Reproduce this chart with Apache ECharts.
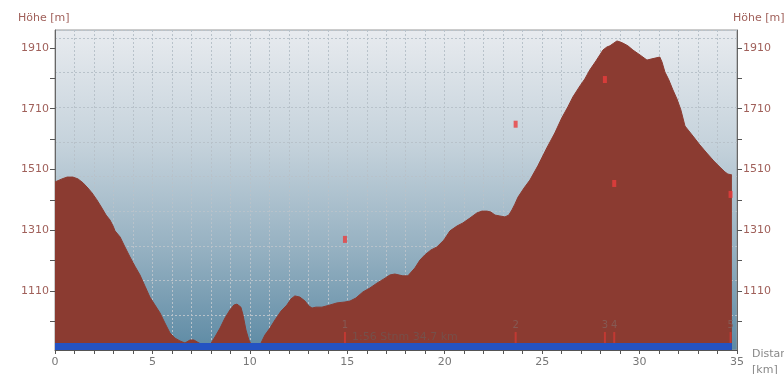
<!DOCTYPE html>
<html>
<head>
<meta charset="utf-8">
<script src="https://cdn.jsdelivr.net/npm/echarts@6/dist/echarts.min.js"></script>
<style>html,body{margin:0;padding:0;background:#fff;}#c{width:784px;height:374px;}</style>
</head>
<body>
<div id="c"></div>
<script>
// Elevation profile: [distance km, height m]
var profile = [
[0,1469],[0.36,1479],[0.62,1485],[0.92,1485],[1.18,1479],[1.44,1466],[1.69,1449],[1.90,1433],
[2.15,1410],[2.41,1383],[2.62,1360],[2.82,1344],[2.98,1324],[3.08,1308],[3.34,1288],[3.59,1255],
[3.85,1222],[4.10,1192],[4.36,1163],[4.62,1126],[4.87,1090],[5.13,1064],[5.39,1038],[5.64,1005],
[5.90,972],[6.16,955],[6.41,946],[6.67,939],[6.93,949],[7.13,949],[7.39,939],[7.64,932],[7.95,932],
[8.21,959],[8.47,988],[8.72,1021],[8.98,1048],[9.18,1064],[9.34,1067],[9.54,1057],[9.65,1031],
[9.80,982],[9.95,949],[10.1,932],[10.52,932],[10.77,965],[11.03,988],[11.29,1015],[11.6,1044],
[11.9,1064],[12.11,1084],[12.31,1094],[12.57,1090],[12.83,1077],[13.03,1061],[13.19,1054],
[13.39,1057],[13.7,1057],[14.11,1064],[14.47,1071],[14.88,1074],[15.14,1077],[15.44,1087],
[15.80,1107],[16.16,1120],[16.52,1136],[16.88,1150],[17.19,1163],[17.44,1166],[17.85,1160],
[18.11,1160],[18.47,1186],[18.73,1212],[18.98,1229],[19.29,1245],[19.60,1255],[19.96,1278],
[20.27,1308],[20.63,1324],[20.93,1334],[21.29,1350],[21.65,1367],[21.91,1373],[22.17,1373],
[22.37,1370],[22.58,1360],[22.83,1357],[23.09,1354],[23.29,1360],[23.45,1377],[23.60,1396],
[23.76,1419],[24.07,1449],[24.37,1475],[24.78,1522],[25.24,1581],[25.65,1630],[26.01,1680],
[26.32,1716],[26.58,1749],[26.94,1785],[27.19,1808],[27.45,1838],[27.76,1867],[27.96,1887],
[28.12,1903],[28.32,1913],[28.48,1917],[28.68,1926],[28.84,1933],[28.99,1930],[29.14,1926],
[29.40,1917],[29.66,1903],[30.02,1887],[30.38,1870],[30.63,1874],[31.04,1880],[31.15,1864],
[31.30,1831],[31.50,1805],[31.71,1772],[31.92,1742],[32.12,1706],[32.33,1653],[32.53,1637],
[32.74,1620],[33.09,1591],[33.45,1564],[33.81,1538],[34.12,1518],[34.38,1502],[34.53,1495],[34.74,1492]
];
// Track band along the bottom
var trackBand = [[0,939],[34.74,939]];
// Red point markers [km, m]
var markers = [[14.88,1280],[23.64,1659],[28.22,1806],[28.70,1464],[34.67,1428]];
// Waypoints along the bottom
var waypointKm = [14.88,23.64,28.22,28.70,34.67];
var waypointNames = ['1','2','3','4','5'];
var waypointLevel = 957;
// Axis ticks
var yLabelValues = [1110,1310,1510,1710,1910];
var yTickValues = [1010,1110,1210,1310,1410,1510,1610,1710,1810,1910];
var yMin = 916, yMax = 1969;
var xMin = 0, xMax = 35;
var summaryText = '1:56 Stnm 34.7 km';

var chart = echarts.init(document.getElementById('c'), null, {renderer:'canvas'});
var labelColor = '#a0605a';
var gridLine = {show:true, lineStyle:{color:'#b8c2ca', type:[2,2], width:1}};
var yAxisCommon = function(pos){
  return {
    type:'value', position:pos, min:yMin, max:yMax, gridIndex:0,
    axisLine:{show:true, lineStyle:{color:'#666'}},
    axisTick:{show:true, length:5, customValues:yTickValues, lineStyle:{color:'#555'}},
    axisLabel:{show:true, customValues:yLabelValues, color:labelColor, fontSize:11, margin:6, fontFamily:'DejaVu Sans',
      formatter:function(v){return String(v);}},
    splitLine:{show:false}
  };
};
var option = {
  animation:false,
  grid:{left:55, right:47, top:30, bottom:24, show:true, borderColor:'#999', borderWidth:1,
    backgroundColor:new echarts.graphic.LinearGradient(0,0,0,1,[
      {offset:0,color:'#e8ebef'},{offset:0.35,color:'#c6d3dc'},{offset:0.7,color:'#93afc0'},{offset:1,color:'#5d8aa4'}])},
  xAxis:[{
    type:'value', min:xMin, max:xMax, interval:1,
    axisLine:{show:true, lineStyle:{color:'#555'}},
    axisTick:{show:true, length:4, lineStyle:{color:'#555'}},
    axisLabel:{color:'#777', fontSize:11, margin:7, fontFamily:'DejaVu Sans',
      formatter:function(v){return v%5===0 ? String(v) : '';}},
    splitLine:gridLine
  }],
  yAxis:[yAxisCommon('left'), yAxisCommon('right'), {
    type:'value', position:'left', min:0, max:9.23, interval:1,
    axisLine:{show:false}, axisTick:{show:false}, axisLabel:{show:false},
    splitLine:gridLine
  }],
  series:[
    {type:'line', data:profile, symbol:'none', xAxisIndex:0, yAxisIndex:0, z:2,
     lineStyle:{width:1, color:'#8b3b31'}, areaStyle:{color:'#8b3b31', opacity:1, origin:'start'}},
    {type:'line', data:trackBand, symbol:'none', xAxisIndex:0, yAxisIndex:0, z:3,
     lineStyle:{width:0, color:'#2453c2'}, areaStyle:{color:'#2453c2', opacity:1, origin:'start'}},
    {type:'scatter', data:markers, symbol:'rect', symbolSize:[4,7], xAxisIndex:0, yAxisIndex:0, z:5,
     itemStyle:{color:'#ea3d3d'}},
    {type:'scatter', data:waypointKm.map(function(k,i){return {value:[k,waypointLevel], name:waypointNames[i]};}),
     symbol:'rect', symbolSize:[2,11], xAxisIndex:0, yAxisIndex:0, z:4,
     itemStyle:{color:'#cf3a33'},
     label:{show:true, position:'top', distance:2, formatter:'{b}', color:'#85625c', fontSize:10, fontFamily:'DejaVu Sans'}}
  ],
  graphic:[
    {type:'text', left:18, top:13, style:{text:'Höhe [m]', fill:labelColor, font:'11px "DejaVu Sans"'}},
    {type:'text', left:733, top:13, style:{text:'Höhe [m]', fill:labelColor, font:'11px "DejaVu Sans"'}},
    {type:'text', left:752, top:349, style:{text:'Distanz', fill:'#888', font:'11px "DejaVu Sans"'}},
    {type:'text', left:752, top:365, style:{text:'[km]', fill:'#888', font:'11px "DejaVu Sans"'}},
    {type:'text', left:352, top:332, z:10, style:{text:summaryText, fill:'#76504a', font:'11px "DejaVu Sans"'}}
  ]
};
chart.setOption(option);
</script>
</body>
</html>
